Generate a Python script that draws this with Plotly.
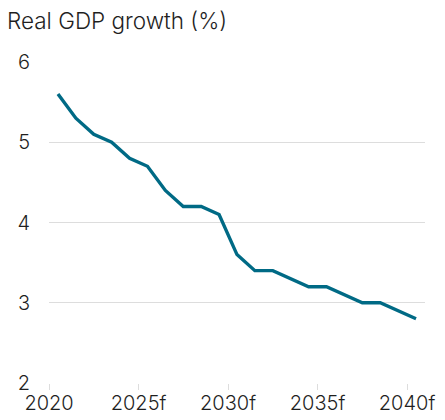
import plotly.graph_objects as go

years = list(range(2020, 2041))
growth = [5.6, 5.3, 5.1, 5.0, 4.8, 4.7, 4.4, 4.2, 4.2, 4.1, 3.6,
          3.4, 3.4, 3.3, 3.2, 3.2, 3.1, 3.0, 3.0, 2.9, 2.8]
tick_years = [2020, 2025, 2030, 2035, 2040]
tick_labels = ["2020", "2025f", "2030f", "2035f", "2040f"]
y_ticks = [2, 3, 4, 5, 6]

FONT = "Inter"
TEXT = "#1f1f1f"
GRID = "#dddddd"
LINE = "#006a85"

x_dates = [f"{y}-07-02" for y in years]

fig = go.Figure()
fig.add_trace(go.Scatter(
    x=x_dates, y=growth, mode="lines",
    line=dict(color=LINE, width=3.4),
    hoverinfo="skip", showlegend=False,
))

fig.update_layout(
    width=445, height=420,
    margin=dict(l=49, r=20, t=62, b=37, autoexpand=False),
    paper_bgcolor="white", plot_bgcolor="white",
    font=dict(family=FONT, size=20, color=TEXT, weight=300),
    xaxis=dict(
        type="date", automargin=False,
        range=["2020-01-01", "2041-01-01"],
        tickvals=[f"{y}-01-01" for y in tick_years],
        ticktext=tick_labels,
        showgrid=False, zeroline=False, showline=False,
        ticks="outside", ticklen=6, tickcolor=GRID, tickwidth=1,
        ticklabelstandoff=-4,
        tickfont=dict(size=20, color=TEXT, weight=300),
    ),
    yaxis=dict(
        range=[2, 6], automargin=False,
        tickvals=y_ticks,
        showgrid=True, gridcolor=GRID, gridwidth=1,
        zeroline=False, showline=False, ticks="",
        ticklabelstandoff=18,
        tickfont=dict(size=20, color=TEXT, weight=300),
    ),
    annotations=[
        dict(text="Real GDP growth (%)", xref="paper", yref="paper",
             x=-44/376, y=1 + 26/321, xanchor="left", yanchor="bottom",
             showarrow=False, font=dict(size=22.5, color=TEXT, family=FONT, weight=300)),
    ],
)

fig.write_html("out.html", config={"displayModeBar": False},
               post_script="document.body.style.margin='0';")
